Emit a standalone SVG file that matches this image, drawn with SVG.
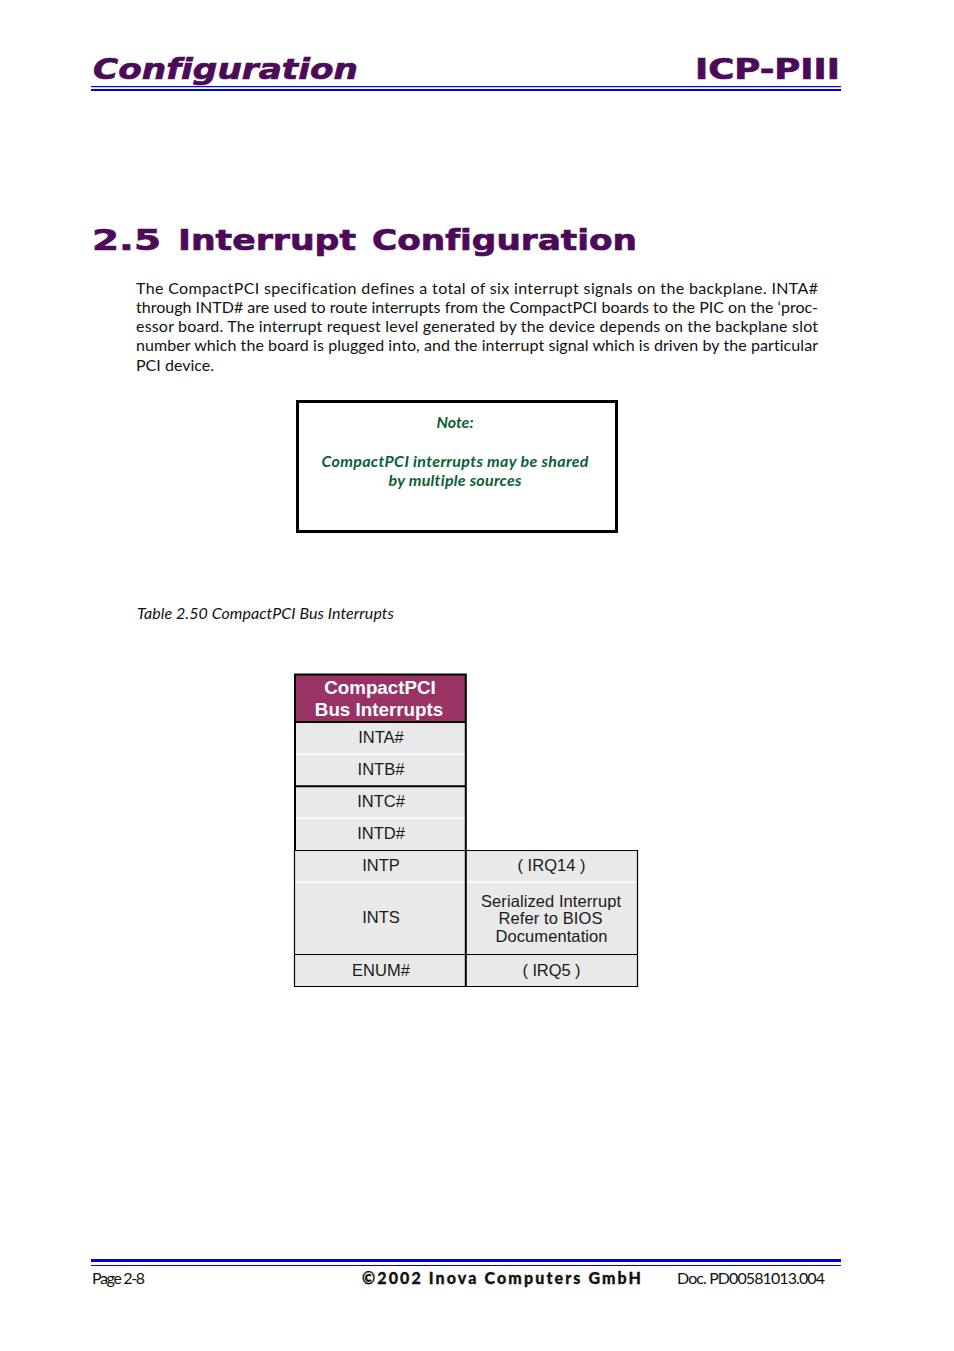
<svg xmlns="http://www.w3.org/2000/svg" width="954" height="1351" viewBox="0 0 954 1351">
<style>
text{font-variant-ligatures:none}
.h{font-family:"DejaVu Sans",sans-serif;font-weight:700;fill:#4c0b58;stroke:#4c0b58;stroke-width:.7}
.b{font-family:Lato,"Noto Sans",sans-serif;font-size:16px;fill:#111}
.n{font-family:Lato,"Noto Sans",sans-serif;font-size:16px;font-style:italic;font-weight:700;fill:#0b6035;text-anchor:middle}
.t{font-family:"Liberation Sans",Arial,sans-serif;font-size:16.500px;fill:#1a1a1a;text-anchor:middle}
.th{font-family:"Liberation Sans",Arial,sans-serif;font-size:18.800px;font-weight:700;fill:#fff;text-anchor:middle}
.cell{fill:#e9e9e9}
.blk{stroke:#000;stroke-width:1.2;fill:none}
.thk{stroke:#000;stroke-width:2;fill:none}
.wht{stroke:#fff;stroke-width:1.5;fill:none}
.bl{fill:#0000e6}
</style>
<rect width="954" height="1351" fill="#fff"/>
<g id="header">
<text class="h" x="93" y="79" font-size="28" font-style="italic" textLength="265" lengthAdjust="spacingAndGlyphs">Configuration</text>
<text class="h" x="695" y="79" font-size="28" textLength="145" lengthAdjust="spacingAndGlyphs">ICP-PIII</text>
<rect class="bl" x="91" y="86" width="750" height="1.2"/>
<rect class="bl" x="91" y="89" width="750" height="2"/>
</g>
<g id="heading">
<text class="h" x="92" y="250" font-size="28" textLength="69" lengthAdjust="spacingAndGlyphs">2.5</text>
<text class="h" x="178" y="250" font-size="28" textLength="178" lengthAdjust="spacingAndGlyphs">Interrupt</text>
<text class="h" x="372" y="250" font-size="28" textLength="265" lengthAdjust="spacingAndGlyphs">Configuration</text>
</g>
<g id="body">
<text class="b" x="136" y="294" textLength="682" lengthAdjust="spacing">The CompactPCI specification defines a total of six interrupt signals on the backplane. INTA#</text>
<text class="b" x="136" y="313" textLength="682" lengthAdjust="spacing">through INTD# are used to route interrupts from the CompactPCI boards to the PIC on the ‘proc-</text>
<text class="b" x="136" y="332" textLength="682" lengthAdjust="spacing">essor board. The interrupt request level generated by the device depends on the backplane slot</text>
<text class="b" x="136" y="351" textLength="682" lengthAdjust="spacing">number which the board is plugged into, and the interrupt signal which is driven by the particular</text>
<text class="b" x="136" y="371" textLength="78" lengthAdjust="spacing">PCI device.</text>
</g>
<g id="note">
<rect x="297.500" y="401.500" width="319" height="130" fill="#fff" stroke="#000" stroke-width="3"/>
<text class="n" x="455" y="428">Note:</text>
<text class="n" x="455" y="467" textLength="267" lengthAdjust="spacing">CompactPCI interrupts may be shared</text>
<text class="n" x="455" y="486" textLength="133" lengthAdjust="spacing">by multiple sources</text>
</g>
<g id="caption">
<text class="b" x="137" y="619" font-style="italic" textLength="257" lengthAdjust="spacing">Table 2.50 CompactPCI Bus Interrupts</text>
</g>
<g id="table">
<rect x="295" y="674" width="171" height="48" fill="#993366"/>
<rect class="cell" x="295" y="722" width="171" height="264"/>
<rect class="cell" x="466" y="850" width="171" height="136"/>
<path class="wht" d="M295 754H466M295 818H466M295 882H637"/>
<path class="blk" d="M466 850.500H637.500V986.500H294.500V850M294.500 954.500H637.500M294.500 850.500H466"/>
<path class="thk" d="M295 850V674.500H465.800V986M295 722H465.800M295 786.200H465.800"/>
<text class="th" x="380" y="694">CompactPCI</text>
<text class="th" x="379" y="716">Bus Interrupts</text>
<text class="t" x="381" y="743">INTA#</text>
<text class="t" x="381" y="775">INTB#</text>
<text class="t" x="381" y="807">INTC#</text>
<text class="t" x="381" y="839">INTD#</text>
<text class="t" x="381" y="871">INTP</text>
<text class="t" x="381" y="923">INTS</text>
<text class="t" x="381" y="976">ENUM#</text>
<text class="t" x="551.500" y="871" textLength="68" lengthAdjust="spacing">( IRQ14 )</text>
<text class="t" x="551" y="907" textLength="140" lengthAdjust="spacing">Serialized Interrupt</text>
<text class="t" x="550.500" y="924" textLength="104" lengthAdjust="spacing">Refer to BIOS</text>
<text class="t" x="551.500" y="942" textLength="112" lengthAdjust="spacing">Documentation</text>
<text class="t" x="551.500" y="976" textLength="58" lengthAdjust="spacing">( IRQ5 )</text>
</g>
<g id="footer">
<rect class="bl" x="91" y="1259" width="750" height="3"/>
<rect class="bl" x="91" y="1265" width="750" height="1"/>
<text class="b" x="92" y="1284" textLength="53" lengthAdjust="spacing">Page 2-8</text>
<text x="362" y="1284" font-family="Lato,sans-serif" font-size="16" font-weight="900" fill="#111" stroke="#111" stroke-width=".3" textLength="279" lengthAdjust="spacing">©2002 Inova Computers GmbH</text>
<text class="b" x="677" y="1284" textLength="148" lengthAdjust="spacing">Doc. PD00581013.004</text>
</g>
</svg>
